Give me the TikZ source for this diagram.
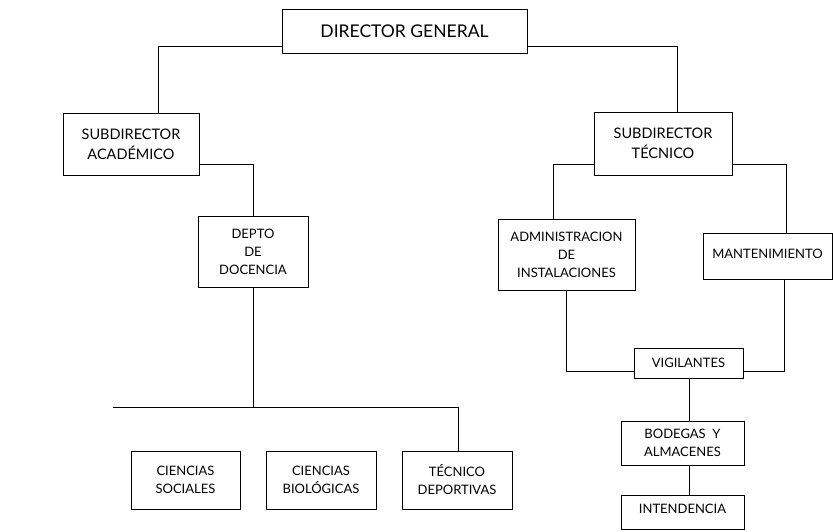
\documentclass[tikz,border=0pt]{standalone}
\usepackage{fontspec}
\setmainfont{Lato}
\begin{document}
\begin{tikzpicture}[x=1pt,y=-1pt,
  box/.style={draw, line width=0.9pt, rectangle, inner sep=0pt, align=center, font=\fontsize{13}{18}\selectfont},
  big/.style={font=\fontsize{14.5}{20}\selectfont},
  conn/.style={line width=0.9pt}]
\useasboundingbox (0,0) rectangle (833,531);
\node[box, minimum width=245, minimum height=44, font=\fontsize{17.5}{20}\selectfont] (dg) at (404.5,31) {DIRECTOR GENERAL};
\node[box, big, minimum width=136, minimum height=62] (sa) at (131,144) {SUBDIRECTOR\\ACADÉMICO};
\node[box, big, minimum width=138, minimum height=63] (st) at (663,143.5) {SUBDIRECTOR\\TÉCNICO};
\node[box, minimum width=110, minimum height=71] (dep) at (253,251.5) {DEPTO\\DE\\DOCENCIA};
\node[box, minimum width=137, minimum height=71] (adm) at (566.5,254.5) {ADMINISTRACION\\DE\\INSTALACIONES};
\node[box, minimum width=129, minimum height=46] (man) at (767.5,256) {\raisebox{5pt}{MANTENIMIENTO}};
\node[box, minimum width=109, minimum height=30] (vig) at (688.5,363) {VIGILANTES};
\node[box, minimum width=123, minimum height=44] (bod) at (682.5,443) {BODEGAS\ \ Y\\ALMACENES};
\node[box, minimum width=123, minimum height=34] (int) at (682.5,512) {\raisebox{6pt}{INTENDENCIA}};
\node[box, minimum width=109, minimum height=58] (cs) at (185.5,480) {CIENCIAS\\SOCIALES};
\node[box, minimum width=110, minimum height=58] (cb) at (321,480) {CIENCIAS\\BIOLÓGICAS};
\node[box, minimum width=110, minimum height=58] (td) at (457,480) {TÉCNICO\\DEPORTIVAS};
\coordinate (barL) at (113,407);
\coordinate (barR) at (458,407);
% connectors
\draw[conn] ([yshift=-15pt]dg.west) -| ([xshift=27pt]sa.north);
\draw[conn] ([yshift=-15pt]dg.east) -| ([xshift=14pt]st.north);
\draw[conn] ([yshift=-20pt]sa.east) -| (dep.north);
\draw[conn] ([yshift=-20.5pt]st.west) -| ([xshift=-13.5pt]adm.north);
\draw[conn] ([yshift=-20.5pt]st.east) -| ([xshift=18.5pt]man.north);
\draw[conn] (dep.south) -- (dep.south |- barL);
\draw[conn] (barL) -- (barR) -- (barR |- td.north);
\draw[conn] (adm.south) |- ([yshift=-8pt]vig.west);
\draw[conn] ([xshift=16.5pt]man.south) |- ([yshift=-8pt]vig.east);
\draw[conn] ([xshift=0.5pt]vig.south) -- ([xshift=0.5pt]vig.south |- bod.north);
\draw[conn] ([xshift=6.5pt]bod.south) -- ([xshift=6.5pt]bod.south |- int.north);
\end{tikzpicture}
\end{document}
